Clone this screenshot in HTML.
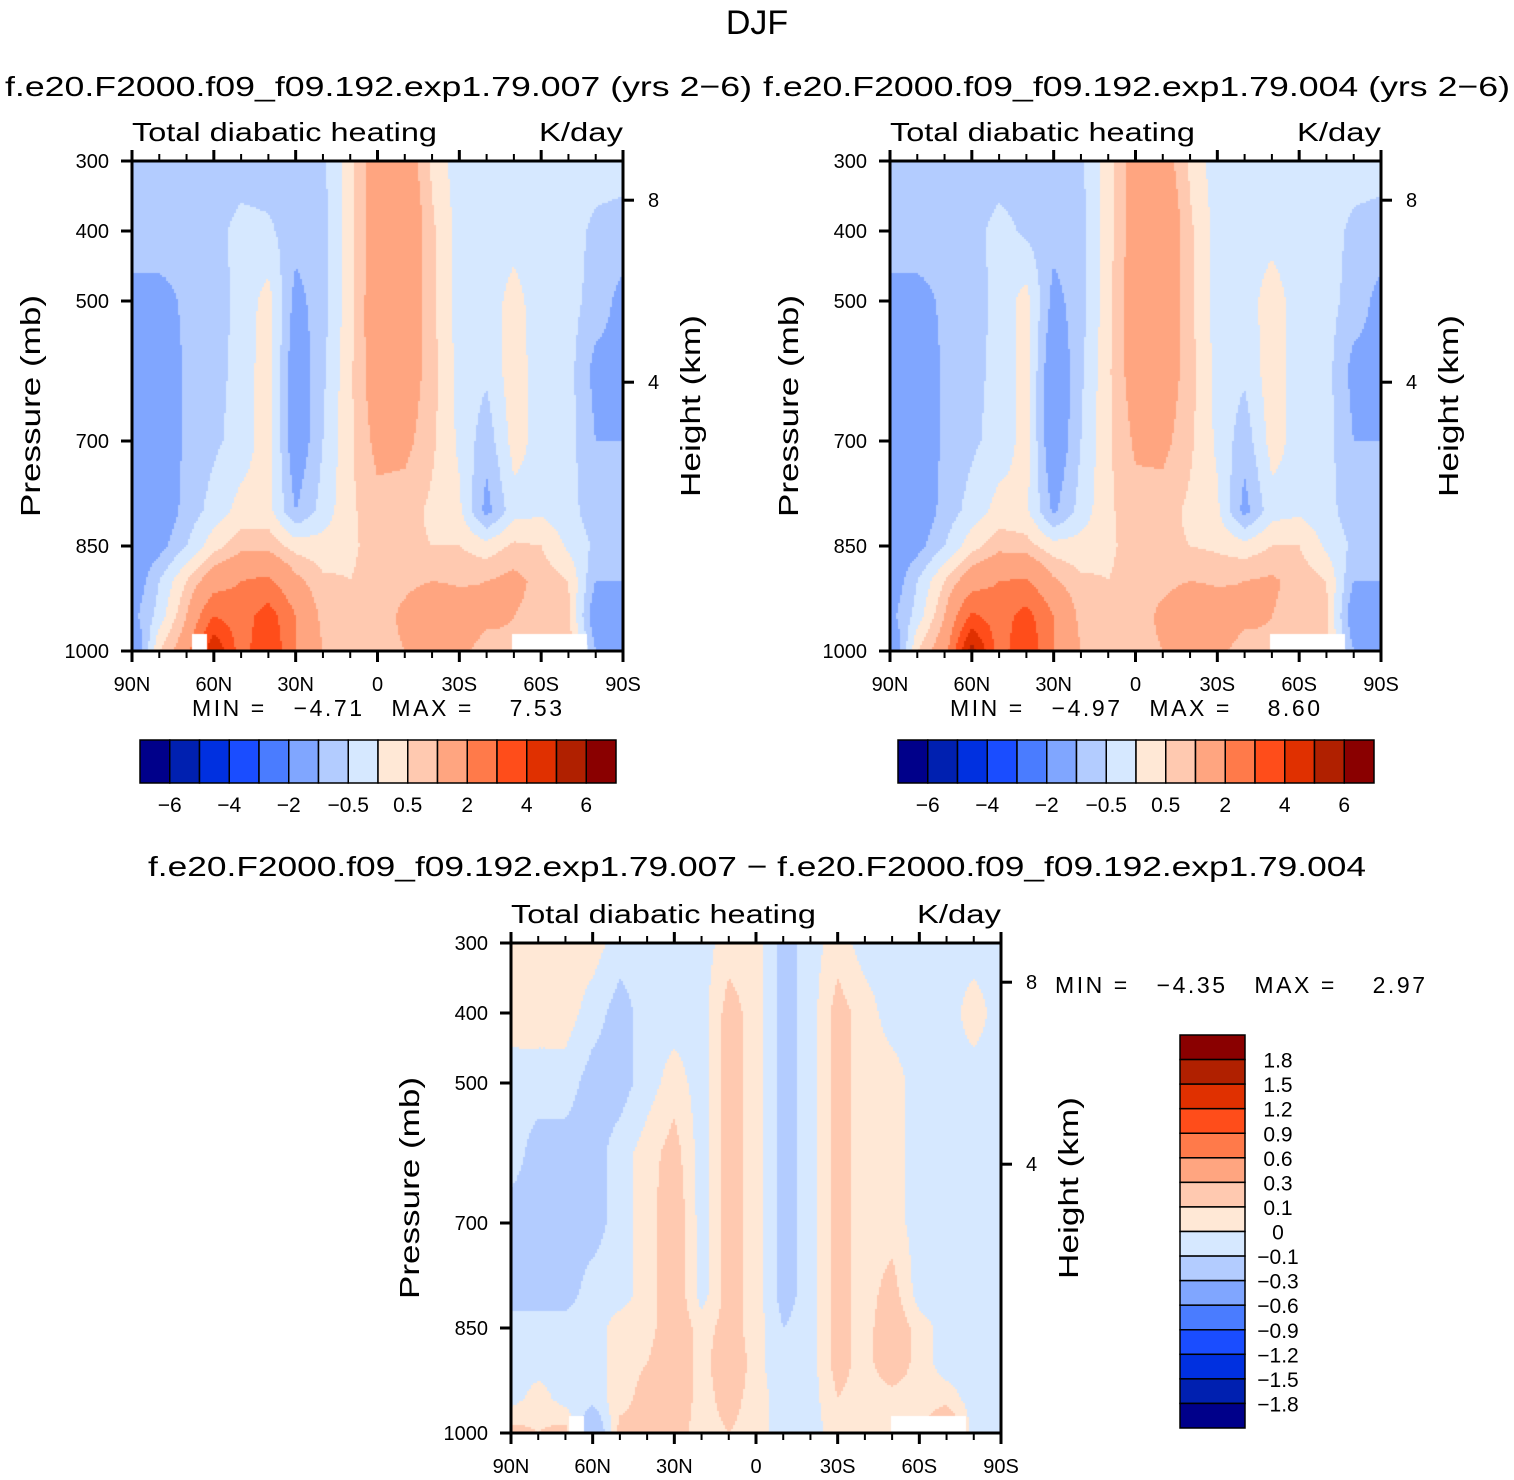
<!DOCTYPE html>
<html><head><meta charset="utf-8">
<style>
html,body{margin:0;padding:0;background:#fff;}
#wrap{position:relative;width:1514px;height:1480px;overflow:hidden;font-family:"Liberation Sans",sans-serif;}
canvas{position:absolute;}
svg{position:absolute;left:0;top:0;}
text{font-family:"Liberation Sans",sans-serif;fill:#000;}
.pre{white-space:pre;}
</style></head>
<body>
<div id="wrap">
<canvas id="c1" width="491" height="490" style="left:132px;top:161px"></canvas>
<canvas id="c2" width="491" height="490" style="left:890px;top:161px"></canvas>
<canvas id="c3" width="490" height="490" style="left:511px;top:943px"></canvas>
<svg id="ov" width="1514" height="1480">
<text x="757" y="34" font-size="34" text-anchor="middle">DJF</text>
<text x="5" y="96" font-size="28" textLength="747" lengthAdjust="spacingAndGlyphs">f.e20.F2000.f09_f09.192.exp1.79.007 (yrs 2−6)</text>
<text x="763" y="96" font-size="28" textLength="747" lengthAdjust="spacingAndGlyphs">f.e20.F2000.f09_f09.192.exp1.79.004 (yrs 2−6)</text>
<text x="148" y="876" font-size="28" textLength="1218" lengthAdjust="spacingAndGlyphs">f.e20.F2000.f09_f09.192.exp1.79.007 − f.e20.F2000.f09_f09.192.exp1.79.004</text>
<g id="axes"></g>
</svg>
</div>
<script>
// ---- data ----
const lats = [90,80,70,60,50,40,30,20,10,0,-10,-20,-30,-40,-50,-60,-70,-80,-90];
const pres = [300,400,500,600,700,800,850,900,950,1000];
const grid007 = [
[-0.8,-0.8,-0.8,-0.8,-0.8,-0.8,-0.7,-0.6,0.3,1.5,1.5,0.4,-0.3,-0.3,-0.3,-0.3,-0.3,-0.3,-0.3],
[-0.7,-0.7,-0.8,-0.7,-0.3,-0.4,-0.8,-0.7,0.3,1.5,1.8,0.6,-0.2,-0.3,-0.2,-0.3,-0.3,-0.6,-0.7],
[-1.2,-1.2,-0.9,-0.8,-0.3,0.2,-1.2,-0.7,0.3,1.6,1.7,0.6,-0.2,-0.3,0.2,-0.3,-0.3,-0.7,-1.2],
[-1.5,-1.5,-0.9,-0.7,-0.3,0.3,-1.5,-0.6,0.4,1.5,1.5,0.7,-0.2,-0.4,0.3,-0.3,-0.3,-1.2,-1.2],
[-1.5,-1.5,-0.9,-0.6,-0.3,0.3,-1.5,-0.5,0.4,1.2,1.2,0.6,-0.1,-0.8,0.2,-0.2,-0.3,-1.0,-1.0],
[-1.5,-1.5,-0.8,-0.3,0.2,0.2,-1.0,-0.3,0.4,0.8,0.7,0.4,0.1,-1.2,-0.2,-0.1,-0.3,-0.8,-0.8],
[-1.5,-1.2,-0.5,0.3,0.8,0.8,0.3,0.2,0.4,0.7,0.6,0.5,0.5,0.2,0.6,0.5,-0.1,-0.6,-0.8],
[-1.5,-0.5,0.5,1.5,2.0,2.2,1.2,0.6,0.5,0.7,0.8,1.0,0.9,1.0,1.2,0.8,0.5,-1.0,-1.0],
[-1.2,-0.3,1.0,3.0,2.5,3.5,2.0,0.8,0.5,0.6,1.2,1.8,1.5,1.2,1.0,0.8,0.6,-1.5,-1.5],
[-2.0,0.5,1.5,5.0,2.5,4.0,2.0,1.0,0.6,0.7,1.0,1.2,1.2,0.7,0.9,0.8,0.8,-1.0,-1.0]];
const grid004 = [
[-0.8,-0.8,-0.8,-0.8,-0.8,-0.8,-0.7,-0.6,0.3,1.4,1.4,0.4,-0.3,-0.3,-0.3,-0.3,-0.3,-0.3,-0.3],
[-0.7,-0.7,-0.8,-0.7,-0.3,-0.6,-0.8,-0.7,0.3,1.4,1.8,0.6,-0.2,-0.3,-0.2,-0.3,-0.3,-0.6,-0.7],
[-1.2,-1.2,-0.9,-0.8,-0.3,0.2,-1.2,-0.7,0.3,1.5,1.7,0.6,-0.2,-0.3,0.3,-0.3,-0.3,-0.7,-1.2],
[-1.5,-1.5,-0.9,-0.7,-0.3,0.2,-1.6,-0.6,0.4,1.4,1.5,0.7,-0.2,-0.4,0.3,-0.3,-0.3,-1.2,-1.2],
[-1.5,-1.5,-0.9,-0.6,-0.3,0.2,-1.6,-0.5,0.4,1.1,1.2,0.6,-0.1,-0.8,0.2,-0.2,-0.3,-1.0,-1.0],
[-1.5,-1.5,-0.8,-0.3,0.2,0.1,-1.1,-0.3,0.4,0.8,0.7,0.4,0.1,-1.2,-0.2,-0.1,-0.3,-0.8,-0.8],
[-1.5,-1.2,-0.5,0.3,0.8,0.7,0.2,0.2,0.4,0.7,0.6,0.5,0.4,0.2,0.5,0.5,-0.1,-0.6,-0.8],
[-1.5,-0.5,0.5,1.5,2.0,2.1,1.1,0.6,0.5,0.7,0.8,1.0,0.9,1.0,1.1,0.8,0.5,-1.0,-1.0],
[-1.2,-0.3,1.0,3.2,2.5,3.4,2.0,0.8,0.5,0.6,1.2,1.7,1.5,1.2,1.0,0.8,0.6,-1.5,-1.5],
[-2.0,0.5,1.5,5.5,2.5,3.9,2.0,1.0,0.6,0.7,1.0,1.2,1.2,0.7,0.9,0.8,0.6,-1.0,-1.0]];
const gridDiff = [
[0.05,0.05,0.05,0.05,-0.05,-0.05,-0.05,-0.05,0.05,0.05,-0.15,-0.05,0.05,-0.05,-0.05,-0.05,-0.05,-0.05,-0.05],
[0.05,0.05,0.05,-0.05,-0.15,-0.05,-0.05,-0.05,0.15,0.05,-0.15,-0.05,0.15,0.05,-0.05,-0.05,-0.05,0.05,-0.05],
[-0.05,-0.05,-0.05,-0.15,-0.15,-0.05,0.05,-0.05,0.15,0.05,-0.15,-0.05,0.15,0.05,0.05,-0.05,-0.05,-0.05,-0.05],
[-0.05,-0.15,-0.15,-0.15,-0.05,0.05,0.15,-0.05,0.15,0.05,-0.15,-0.05,0.15,0.05,0.05,-0.05,-0.05,-0.05,-0.05],
[-0.15,-0.15,-0.15,-0.15,-0.05,0.05,0.2,-0.05,0.15,0.05,-0.15,-0.05,0.15,0.05,0.05,-0.05,-0.05,-0.05,-0.05],
[-0.15,-0.15,-0.15,-0.05,-0.05,0.05,0.2,-0.05,0.15,0.05,-0.15,-0.05,0.15,0.05,0.15,-0.05,-0.05,-0.05,-0.05],
[-0.05,-0.05,-0.05,-0.05,0.05,0.05,0.2,0.05,0.15,0.05,-0.1,-0.05,0.15,0.05,0.2,0.05,-0.05,-0.05,-0.05],
[-0.05,-0.05,-0.05,-0.05,0.05,0.1,0.2,0.05,0.2,0.05,-0.1,-0.05,0.15,0.05,0.2,0.05,-0.05,-0.05,-0.05],
[-0.05,0.05,-0.05,-0.05,0.05,0.15,0.2,0.05,0.15,0.05,-0.05,-0.05,0.1,0.05,0.05,0.05,0.05,-0.05,-0.05],
[0.15,0.1,0.15,-0.3,0.15,0.15,0.15,0.05,0.1,0.05,-0.05,-0.05,0.05,0.05,0.05,0.05,0.3,-0.05,-0.05]];
const levelsTop = [-6,-5,-4,-3,-2,-1,-0.5,0,0.5,1,2,3,4,5,6];
const levelsDiff = [-1.8,-1.5,-1.2,-0.9,-0.6,-0.3,-0.1,0,0.1,0.3,0.6,0.9,1.2,1.5,1.8];
const colors = ["#00008a","#0020b0","#0030e0","#1a4dff","#4a7cff","#80a6ff","#b3ccff","#d6e8ff","#ffe8d6","#ffc9b0","#ffa580","#ff7a4a","#ff4d1a","#e03000","#b02000","#8a0000"];
const topLabels = ["-6","-4","-2","-0.5","0.5","2","4","6"];
const topLabelIdx = [0,2,4,6,8,10,12,14];
const latTicks = [90,60,30,0,-30,-60,-90];
const latTickLabels = ["90N","60N","30N","0","30S","60S","90S"];
const presTicks = [300,400,500,700,850,1000];
const heightTicks = [8,4];
const heightTickP = [356,616];
const minmax = [["−4.71","7.53"],["−4.97","8.60"],["−4.35","2.97"]];

// ---- helpers ----
function interp(grid, lat, p){
  let fi = (90-lat)/10; let i0=Math.min(Math.floor(fi),17); let tx=fi-i0;
  let j0=0; while(j0<pres.length-2 && p>pres[j0+1]) j0++;
  let ty=(p-pres[j0])/(pres[j0+1]-pres[j0]); ty=Math.max(0,Math.min(1,ty));
  const a=grid[j0][i0],b=grid[j0][i0+1],c=grid[j0+1][i0],d=grid[j0+1][i0+1];
  return a*(1-tx)*(1-ty)+b*tx*(1-ty)+c*(1-tx)*ty+d*tx*ty;
}
function colIdx(v,lv){let k=0;for(const b of lv) if(v>=b) k++; return k;}
function drawPanel(id, grid, lv){
  const cv=document.getElementById(id), ctx=cv.getContext('2d');
  const W=cv.width,H=cv.height, s=2;
  for(let y=0;y<H;y+=s){
    const p=300+700*(y+s/2)/H;
    for(let x=0;x<W;x+=s){
      const lat=90-180*(x+s/2)/W;
      ctx.fillStyle=colors[colIdx(interp(grid,lat,p),lv)];
      ctx.fillRect(x,y,s,s);
    }
  }
}
drawPanel('c1',grid007,levelsTop);
drawPanel('c2',grid004,levelsTop);
drawPanel('c3',gridDiff,levelsDiff);
[['c1',60,473,15,17],['c1',380,473,75,17],['c2',380,473,75,17],['c3',380,473,75,17],['c3',58,473,15,17]].forEach(r=>{
  const ctx=document.getElementById(r[0]).getContext('2d');ctx.fillStyle='#fff';ctx.fillRect(r[1],r[2],r[3],r[4]);
});

// ---- overlay ----
const NS="http://www.w3.org/2000/svg";
const g=document.getElementById('axes');
function el(tag,attrs,txt){const e=document.createElementNS(NS,tag);for(const k in attrs)e.setAttribute(k,attrs[k]);if(txt!==undefined)e.textContent=txt;g.appendChild(e);return e;}
function panel(x0,y0,w,h){
  const xs=lat=>x0+(90-lat)/180*w, ys=p=>y0+(p-300)/700*h;
  let e=el('rect',{x:x0,y:y0,width:w,height:h,fill:'none',stroke:'#000','stroke-width':3});
  
  
  for(let lat=90;lat>=-90;lat-=10){
    const major=lat%30===0, L=major?11:7;
    e=el('line',{x1:xs(lat),x2:xs(lat),y1:y0+h,y2:y0+h+L,stroke:'#000','stroke-width':major?3:2});
    
    
    e=el('line',{x1:xs(lat),x2:xs(lat),y1:y0,y2:y0-L,stroke:'#000','stroke-width':major?3:2});
    
    
  }
  latTicks.forEach((lat,i)=>{
    e=el('text',{x:xs(lat),y:y0+h+40,'font-size':20,'text-anchor':'middle'},latTickLabels[i]);
    
    
  });
  presTicks.forEach(p=>{
    e=el('line',{x1:x0-11,x2:x0,y1:ys(p),y2:ys(p),stroke:'#000','stroke-width':3});
    
    
    e=el('text',{x:x0-23,y:ys(p)+7,'font-size':20,'text-anchor':'end'},String(p));
    
    
  });
  heightTicks.forEach((hk,i)=>{
    const y=ys(heightTickP[i]);
    e=el('line',{x1:x0+w,x2:x0+w+11,y1:y,y2:y,stroke:'#000','stroke-width':3});
    
    
    e=el('text',{x:x0+w+25,y:y+7,'font-size':20,'text-anchor':'start'},String(hk));
    
    
  });
  e=el('text',{x:x0,y:y0-20,'font-size':26,textLength:305,lengthAdjust:'spacingAndGlyphs'},'Total diabatic heating');
  
  
  e=el('text',{x:x0+w,y:y0-20,'font-size':26,'text-anchor':'end',textLength:84,lengthAdjust:'spacingAndGlyphs'},'K/day');
  
  
  e=el('text',{x:0,y:0,'font-size':28,'text-anchor':'middle',transform:`translate(${x0-92},${y0+245}) rotate(-90)`,textLength:222,lengthAdjust:'spacingAndGlyphs'},'Pressure (mb)');
  
  
  e=el('text',{x:0,y:0,'font-size':28,'text-anchor':'middle',transform:`translate(${x0+w+77},${y0+245}) rotate(-90)`,textLength:182,lengthAdjust:'spacingAndGlyphs'},'Height (km)');
  
  
}
panel(132,161,491,490);
panel(890,161,491,490);
panel(511,943,490,490);
[[192,716],[950,716],[1055,993]].forEach((pos,i)=>{
  const e=el('text',{x:pos[0],y:pos[1],'font-size':23,'class':'pre',textLength:370,lengthAdjust:'spacing'},`MIN =   ${minmax[i][0]}   MAX =    ${minmax[i][1]}`);
  
  
});
[140,898].forEach(bx=>{
  const bw=476/16;
  colors.forEach((c,i)=>{
    const e=el('rect',{x:bx+i*bw,y:740,width:bw,height:43,fill:c,stroke:'#000','stroke-width':1.5});
    
    
  });
  topLabels.forEach((t,i)=>{
    const e=el('text',{x:bx+(topLabelIdx[i]+1)*bw,y:812,'font-size':21,'text-anchor':'middle'},t.replace('-','−'));
    
    
  });
});
{
  const bx=1180,by=1035,bh=393/16;
  colors.slice().reverse().forEach((c,i)=>{
    const e=el('rect',{x:bx,y:by+i*bh,width:65,height:bh,fill:c,stroke:'#000','stroke-width':1.5});
    
    
  });
  levelsDiff.slice().reverse().forEach((v,i)=>{
    const t=(v<0?'−':'')+String(Math.abs(v));
    const e=el('text',{x:1278,y:by+(i+1)*bh+8,'font-size':21,'text-anchor':'middle'},t);
    
    
  });
}
</script>
</body></html>
